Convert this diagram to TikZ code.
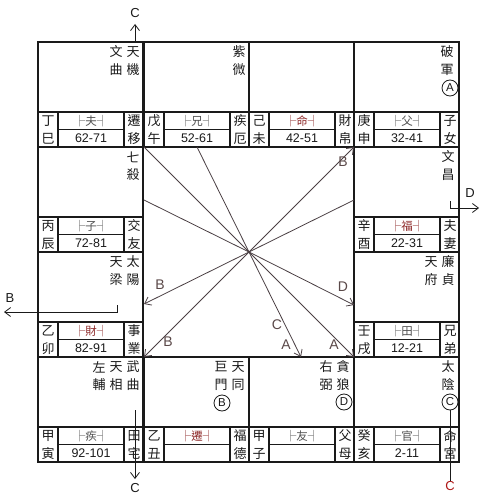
\documentclass[tikz,border=0pt]{standalone}
\usepackage{fontspec}
\setmainfont{Liberation Sans}
\newfontfamily\cjk{Noto Sans CJK TC}
\usetikzlibrary{arrows.meta}
\definecolor{ink}{HTML}{1A1A1A}
\definecolor{redmark}{HTML}{8E2A2A}
\definecolor{markgray}{HTML}{505050}
\definecolor{raycol}{HTML}{4B4044}
\definecolor{lblcol}{HTML}{5A4848}
\definecolor{redC}{HTML}{B01818}
\tikzset{
  cellline/.style={draw=ink, line width=1.8pt},
  stripline/.style={draw=ink, line width=1.3pt},
  cjkch/.style={font=\cjk\fontsize{13}{13}\selectfont, text=ink, inner sep=0pt},
  markertxt/.style={font=\cjk\fontsize{11.5}{11.5}\selectfont, inner sep=0pt},
  agetxt/.style={font=\fontsize{12.5}{12.5}\selectfont, text=ink, inner sep=0pt},
  circled/.style={draw=ink, line width=0.8pt, circle, minimum size=16pt, inner sep=0pt, font=\fontsize{11.5}{11.5}\selectfont, text=ink},
  rayline/.style={draw=raycol, line width=0.8pt},
  rayarrow/.style={rayline, -{Straight Barb[length=6pt,width=9pt]}},
  raylbl/.style={font=\fontsize{14}{14}\selectfont, text=lblcol, inner sep=0pt},
  extarrow/.style={draw=ink, line width=0.8pt, -{Straight Barb[length=6pt,width=9pt]}},
  extline/.style={draw=ink, line width=0.8pt},
  extlbl/.style={font=\fontsize{13}{13}\selectfont, text=ink, inner sep=0pt}
}
% #1 name, #2 left x, #3 top y, #4 stem, #5 branch, #6 marker, #7 age, #8 palace 1, #9 palace 2
\newcommand\pal[9]{%
  \draw[cellline] (#2,#3) rectangle ++(105,105);
  \draw[cellline] (#2,#3+70) -- ++(105,0);
  \draw[stripline] (#2+20,#3+70) -- ++(0,35) (#2+86,#3+70) -- ++(0,35)
                   (#2+20,#3+87.5) -- (#2+86,#3+87.5);
  \node[cjkch] (#1-stem) at (#2+10,#3+79) {#4};
  \node[cjkch] (#1-br) at (#2+10,#3+96.5) {#5};
  \node[markertxt] (#1-mk) at (#2+53,#3+79) {#6};
  \node[agetxt] (#1-age) at (#2+53,#3+96.5) {#7};
  \node[cjkch] (#1-pa) at (#2+96,#3+79) {#8};
  \node[cjkch] (#1-pb) at (#2+96,#3+96.5) {#9};
}
\newcommand\blk[1]{{\color{markgray}#1}}
\newcommand\rd[1]{{\color{redmark}#1}}
\begin{document}
\begin{tikzpicture}[x=1pt,y=-1pt]
\useasboundingbox (0,0) rectangle (498,500);
\fill[white] (0,0) rectangle (498,500);

% twelve palaces
\pal{si}{38}{42}{丁}{巳}{\blk{├夫┤}}{62-71}{遷}{移}
\pal{wu}{144}{42}{戊}{午}{\blk{├兄┤}}{52-61}{疾}{厄}
\pal{wei}{249}{42}{己}{未}{\rd{├命┤}}{42-51}{財}{帛}
\pal{shen}{354}{42}{庚}{申}{\blk{├父┤}}{32-41}{子}{女}
\pal{chen}{38}{147}{丙}{辰}{\blk{├子┤}}{72-81}{交}{友}
\pal{you}{354}{147}{辛}{酉}{\rd{├福┤}}{22-31}{夫}{妻}
\pal{mao}{38}{252}{乙}{卯}{\rd{├財┤}}{82-91}{事}{業}
\pal{xu}{354}{252}{壬}{戌}{\blk{├田┤}}{12-21}{兄}{弟}
\pal{yin}{38}{357}{甲}{寅}{\blk{├疾┤}}{92-101}{田}{宅}
\pal{chou}{144}{357}{乙}{丑}{\rd{├遷┤}}{}{福}{德}
\pal{zi}{249}{357}{甲}{子}{\blk{├友┤}}{}{父}{母}
\pal{hai}{354}{357}{癸}{亥}{\blk{├官┤}}{2-11}{命}{宮}

% stars
\node[cjkch] (s1a) at (133,52) {天}; \node[cjkch] (s1b) at (133,70) {機};
\node[cjkch] (s2a) at (116,52) {文}; \node[cjkch] (s2b) at (116,70) {曲};
\node[cjkch] (s3a) at (239,52) {紫}; \node[cjkch] (s3b) at (239,70) {微};
\node[cjkch] (s4a) at (447,52) {破}; \node[cjkch] (s4b) at (447,70) {軍};
\node[circled] (cA) at (450,88) {A};
\node[cjkch] (s5a) at (133,157) {七}; \node[cjkch] (s5b) at (133,175) {殺};
\node[cjkch] (s6a) at (448,157) {文}; \node[cjkch] (s6b) at (448,175) {昌};
\node[cjkch] (s7a) at (133,262) {太}; \node[cjkch] (s7b) at (133,280) {陽};
\node[cjkch] (s8a) at (116,262) {天}; \node[cjkch] (s8b) at (116,280) {梁};
\node[cjkch] (s9a) at (448,262) {廉}; \node[cjkch] (s9b) at (448,280) {貞};
\node[cjkch] (s10a) at (431,262) {天}; \node[cjkch] (s10b) at (431,280) {府};
\node[cjkch] (s11a) at (133,367) {武}; \node[cjkch] (s11b) at (133,385) {曲};
\node[cjkch] (s12a) at (116,367) {天}; \node[cjkch] (s12b) at (116,385) {相};
\node[cjkch] (s13a) at (99,367) {左}; \node[cjkch] (s13b) at (99,385) {輔};
\node[cjkch] (s14a) at (238,367) {天}; \node[cjkch] (s14b) at (238,385) {同};
\node[cjkch] (s15a) at (221,367) {巨}; \node[cjkch] (s15b) at (221,385) {門};
\node[circled] (cB) at (222,403) {B};
\node[cjkch] (s16a) at (343,367) {貪}; \node[cjkch] (s16b) at (343,385) {狼};
\node[cjkch] (s17a) at (326,367) {右}; \node[cjkch] (s17b) at (326,385) {弼};
\node[circled] (cD) at (344,402) {D};
\node[cjkch] (s18a) at (448,367) {太}; \node[cjkch] (s18b) at (448,385) {陰};
\node[circled] (cC) at (450,402) {C};

% rays from the centre
\coordinate (O) at (249,252);
\coordinate (r1) at (144,147);
\coordinate (r2) at (197,147);
\coordinate (r3) at (144,200);
\coordinate (r4) at (354,147);
\coordinate (r5) at (354,200);
\coordinate (r6) at (144,304);
\coordinate (r7) at (144,357);
\coordinate (r8) at (354,305);
\coordinate (r9) at (301,357);
\coordinate (r10) at (354,357);
\draw[rayline] (O) -- (r1);
\draw[rayline] (O) -- (r2);
\draw[rayline] (O) -- (r3);
\draw[rayline] (O) -- (r5);
\draw[rayarrow] (O) -- (r4);
\draw[rayarrow] (O) -- (r6);
\draw[rayarrow] (O) -- (r7);
\draw[rayarrow] (O) -- (r8);
\draw[rayarrow] (O) -- (r9);
\draw[rayarrow] (O) -- (r10);
\node[raylbl] (l4) at (343,162) {B};
\node[raylbl] (l6) at (160,285) {B};
\node[raylbl] (l7) at (168,342) {B};
\node[raylbl] (l8) at (343,287) {D};
\node[raylbl] (l9c) at (277,325) {C};
\node[raylbl] (l9a) at (286,345) {A};
\node[raylbl] (l10) at (334,345) {A};

% external arrows
\coordinate (tC0) at (135,42);
\coordinate (tC1) at (135,24);
\draw[extarrow] (tC0) -- (tC1);
\node[extlbl] (tC) at (135,13) {C};

\coordinate (dA) at (450,201);
\coordinate (dB) at (450,208);
\coordinate (dC) at (479,208);
\draw[extarrow] (dA) -- (dB) -- (dC);
\node[extlbl] (dL) at (470,193) {D};

\coordinate (bA) at (117,305);
\coordinate (bB) at (117,312);
\coordinate (bC) at (4,312);
\draw[extarrow] (bA) -- (bB) -- (bC);
\node[extlbl] (bL) at (10,298) {B};

\coordinate (cA0) at (135,410);
\coordinate (cA1) at (135,479);
\draw[extarrow] (cA0) -- (cA1);
\node[extlbl] (cL) at (135,488) {C};

\node[extlbl, text=redC, font=\fontsize{13}{13}\selectfont] (rC) at (450,486) {C};
\draw[extline] (cC.south) -- (rC.north);
\end{tikzpicture}
\end{document}
